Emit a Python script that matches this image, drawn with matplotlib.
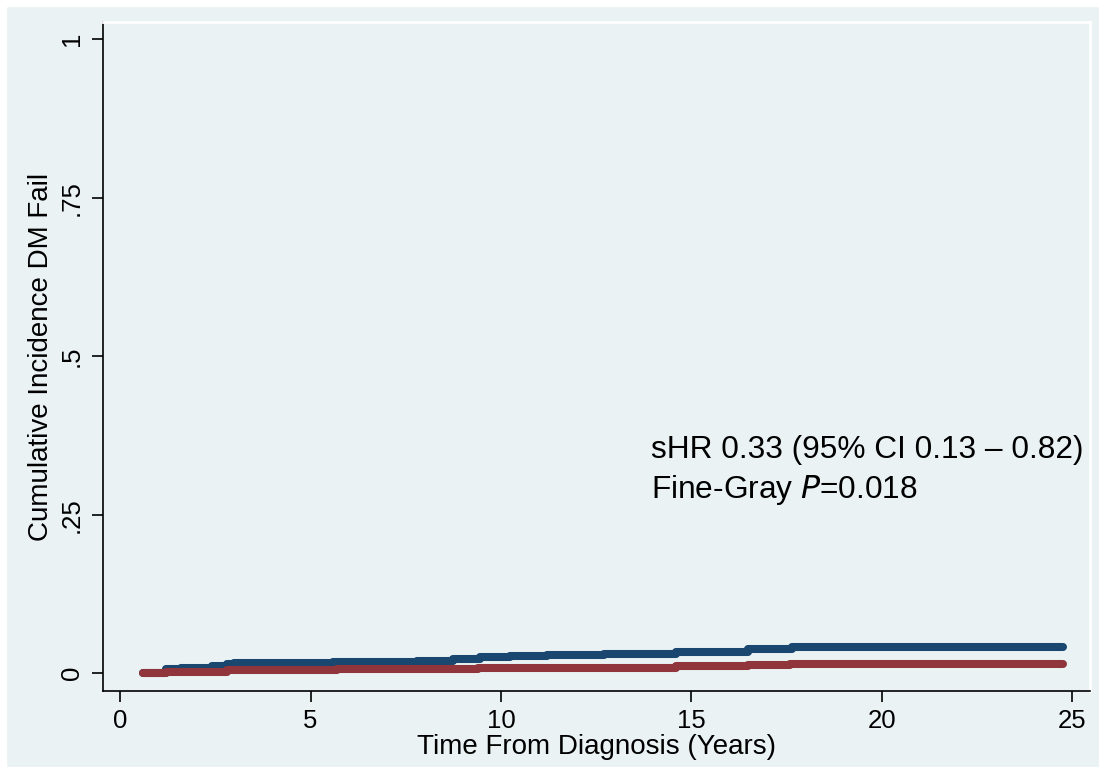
import numpy as np
import matplotlib.pyplot as plt
from matplotlib.patches import Rectangle

# step curves (time in years, cumulative incidence)
blue_t = [0.6, 1.2, 1.6, 2.4, 2.8, 3.0, 5.6, 7.8, 8.75, 9.45, 10.25, 11.2,
          12.7, 14.6, 16.5, 17.3, 17.65, 24.75]
blue_y = [0.001, 0.007, 0.009, 0.012, 0.014, 0.016, 0.018, 0.020, 0.023, 0.025,
          0.027, 0.029, 0.031, 0.034, 0.038, 0.039, 0.0415, 0.0415]
red_t = [0.6, 1.2, 2.8, 5.7, 7.85, 9.4, 11.2, 14.6, 16.5, 17.6, 24.75]
red_y = [0.0, 0.002, 0.005, 0.006, 0.007, 0.0085, 0.009, 0.0115, 0.013, 0.014, 0.014]

x_ticks = [0, 5, 10, 15, 20, 25]
y_ticks = [0, 0.25, 0.5, 0.75, 1]
y_labels = ["0", ".25", ".5", ".75", "1"]

BG = "#EAF2F3"
BLUE = "#1A476F"
RED = "#90353B"

plt.rcParams['font.family'] = ['Liberation Sans', 'DejaVu Sans']

fig = plt.figure(figsize=(10.99, 7.67), dpi=100, facecolor=BG)
ax = fig.add_axes([103 / 1099, 1 - 691 / 767, (1090 - 103) / 1099, (691 - 22) / 767])
ax.set_facecolor(BG)

ax.plot(blue_t, blue_y, drawstyle='steps-post', color=BLUE, lw=5.8,
        solid_capstyle='round', solid_joinstyle='round')
ax.plot(red_t, red_y, drawstyle='steps-post', color=RED, lw=5.8,
        solid_capstyle='round', solid_joinstyle='round')

ax.set_xlim(-0.45, 25.47)
ax.set_ylim(-0.028, 1.027)

ax.set_xticks(x_ticks)
ax.set_yticks(y_ticks)
ax.set_yticklabels(y_labels, rotation=90, va='center')
ax.tick_params(axis='both', direction='out', length=8, width=1.2, labelsize=18.5,
               colors='black')
ax.tick_params(axis='x', pad=5)
ax.tick_params(axis='y', pad=6)

ax.set_xlabel("Time From Diagnosis (Years)", fontsize=20, labelpad=1)
ax.set_ylabel("Cumulative Incidence DM Fail", fontsize=20, labelpad=4)

for s in ['left', 'bottom']:
    ax.spines[s].set_color('black')
    ax.spines[s].set_linewidth(1.2)
for s in ['top', 'right']:
    ax.spines[s].set_color('white')
    ax.spines[s].set_linewidth(2)

ax.text(13.95, 0.352, "sHR 0.33 (95% CI 0.13 \u2013 0.82)", fontsize=22.8, va='center')
ax.text(13.95, 0.289, "Fine-Gray $\\it{P}$=0.018", fontsize=22.8, va='center')

# thin white edge at top and left of the picture
fig.add_artist(Rectangle((0, 1 - 6 / 767), 1, 6 / 767, color='white',
                         transform=fig.transFigure, zorder=-1))
fig.add_artist(Rectangle((0, 0), 6 / 1099, 1, color='white',
                         transform=fig.transFigure, zorder=-1))

fig.savefig("out.png", dpi=100, facecolor=BG)
